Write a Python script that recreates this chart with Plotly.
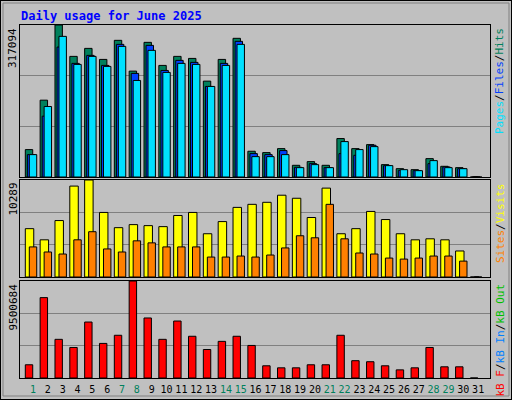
import plotly.graph_objects as go

days = list(range(1, 32))
weekend = [1, 7, 8, 14, 15, 21, 22, 28, 29]

hits = [57150, 160300, 317094, 251600, 268300, 245300, 285100, 220900, 280900, 232800,
        251600, 247400, 200000, 245300, 289300, 53700, 50900, 59200, 24400, 32100,
        24400, 80200, 59200, 67600, 25800, 17400, 15300, 38300, 22300, 19500, 0]
files = [46700, 126900, 271100, 237000, 253700, 232800, 276700, 216100, 274600, 222300,
         243300, 239100, 188900, 237000, 283000, 48800, 46700, 55100, 20200, 27900,
         19500, 48800, 45300, 66200, 23700, 13900, 13200, 27900, 20900, 17400, 0]
pages = [46700, 147100, 293400, 234900, 251600, 230700, 272500, 201400, 264200, 218200,
         237000, 234900, 188900, 232800, 276700, 42500, 42500, 46700, 19500, 25800,
         19500, 73900, 57200, 63400, 23700, 15300, 13200, 34200, 19500, 17400, 0]
visits = [5127, 3944, 5987, 9644, 10289, 6847, 5234, 5557, 5449, 5342,
          6525, 6847, 4589, 5879, 7385, 7708, 7923, 8676, 8353, 6310,
          9429, 4589, 5127, 6955, 6095, 4589, 3944, 4051, 3944, 2760, 0]
sites = [3191, 2653, 2438, 3944, 4804, 2976, 2653, 3836, 3621, 3191,
         3191, 3191, 2115, 2115, 2223, 2115, 2330, 3083, 4374, 4159,
         7708, 4051, 2545, 2438, 2008, 1900, 2008, 2223, 2223, 1685, 0]
kbytes = [1295500, 7872900, 3787000, 2989700, 5481100, 3388300, 4185600, 9500684, 5879800, 3787000,
          5580800, 4086000, 2790400, 3587700, 4086000, 3189000, 1195900, 996600, 996600, 1295500,
          1295500, 4185600, 1694200, 1594500, 1195900, 797300, 996600, 2989700, 1096200, 1096200, 0]

max_hits = 317094
max_visits = 10289
max_kb = 9500684

mono = "DejaVu Sans Mono"
fig = go.Figure()

def bars(y, color, offset, width, xa, ya):
    return go.Bar(x=days, y=y, marker=dict(color=color, line=dict(color="black", width=1)),
                  offset=offset, width=width, xaxis=xa, yaxis=ya, showlegend=False,
                  hoverinfo="y")

fig.add_trace(bars(hits, "#00805C", -0.52, 0.5, "x", "y"))
fig.add_trace(bars(files, "#0040FF", -0.38, 0.5, "x", "y"))
fig.add_trace(bars(pages, "#00E0FF", -0.25, 0.5, "x", "y"))
fig.add_trace(bars(visits, "#FFFF00", -0.52, 0.57, "x2", "y2"))
fig.add_trace(bars(sites, "#FF8000", -0.25, 0.5, "x2", "y2"))
fig.add_trace(bars(kbytes, "#FF0000", -0.52, 0.5, "x3", "y3"))

ticktext = ["<span style='color:#00805C'>%d</span>" % d if d in weekend else str(d) for d in days]
xr = [0.123, 31.8]
xdom = [20 / 512, 490 / 512]
xcommon = dict(range=xr, domain=xdom, showgrid=False, zeroline=False, showline=True,
               linecolor="black", mirror=True, fixedrange=True, automargin=False)
fig.update_layout(
    xaxis=dict(**xcommon, anchor="y", showticklabels=False),
    xaxis2=dict(**xcommon, anchor="y2", showticklabels=False),
    xaxis3=dict(**xcommon, anchor="y3", tickvals=days, ticktext=ticktext, ticks="",
                tickangle=0, ticklabelstandoff=2,
                tickfont=dict(family=mono, size=10, color="black")),
)

def yax(mx, dom, anchor):
    return dict(range=[0, mx * 1.0], domain=dom, anchor=anchor, tickvals=[mx / 3, mx * 2 / 3],
                showticklabels=False, gridcolor="#808080", gridwidth=1, zeroline=False,
                showline=True, linecolor="black", mirror=True, fixedrange=True, automargin=False)

fig.update_layout(
    yaxis=yax(max_hits, [1 - 177 / 400, 1 - 25 / 400], "x"),
    yaxis2=yax(max_visits, [1 - 277 / 400, 1 - 180 / 400], "x2"),
    yaxis3=yax(max_kb, [1 - 378 / 400, 1 - 281 / 400], "x3"),
)

ann = []
ann.append(dict(text="<b>Daily usage for June 2025</b>", x=19 / 512, y=1 - 16 / 400,
                xanchor="left", yanchor="middle", font=dict(family=mono, size=12, color="#0000FF")))
for val, ytop in [(max_hits, 26), (max_visits, 181), (max_kb, 282)]:
    ann.append(dict(text=str(val), textangle=-90, x=13 / 512, y=1 - ytop / 400,
                    xanchor="center", yanchor="top", font=dict(family=mono, size=11, color="black")))

def sp(t, c):
    return "<span style='color:%s'>%s</span>" % (c, t)

right = [
    (sp("Pages", "#00E0FF") + "/" + sp("Files", "#0040FF") + "/" + sp("Hits", "#00805C"), 26),
    (sp("Sites", "#FF8000") + "/" + sp("Visits", "#FFFF00"), 181),
    (sp("kB F", "#FF0000") + "/" + sp("kB In", "#0080FF") + "/" + sp("kB Out", "#00C000"), 282),
]
for t, ytop in right:
    ann.append(dict(text=t, textangle=-90, x=500 / 512, y=1 - ytop / 400,
                    xanchor="center", yanchor="top", font=dict(family=mono, size=11, color="black")))

for a in ann:
    a.update(xref="paper", yref="paper", showarrow=False)

fig.update_layout(
    width=512, height=400, margin=dict(l=0, r=0, t=0, b=0),
    paper_bgcolor="#C0C0C0", plot_bgcolor="#C0C0C0", barmode="overlay",
    annotations=ann,
    shapes=[
        dict(type="rect", xref="paper", yref="paper", x0=0, x1=1, y0=0, y1=1,
             line=dict(color="black", width=2)),
        dict(type="rect", xref="paper", yref="paper", x0=3 / 512, x1=1 - 3 / 512, y0=4 / 400, y1=1 - 3 / 400,
             line=dict(color="#808080", width=1)),
    ],
)

fig.write_html("out.html", config={"displayModeBar": False},
               post_script="document.body.style.margin='0';document.body.style.overflow='hidden';")
